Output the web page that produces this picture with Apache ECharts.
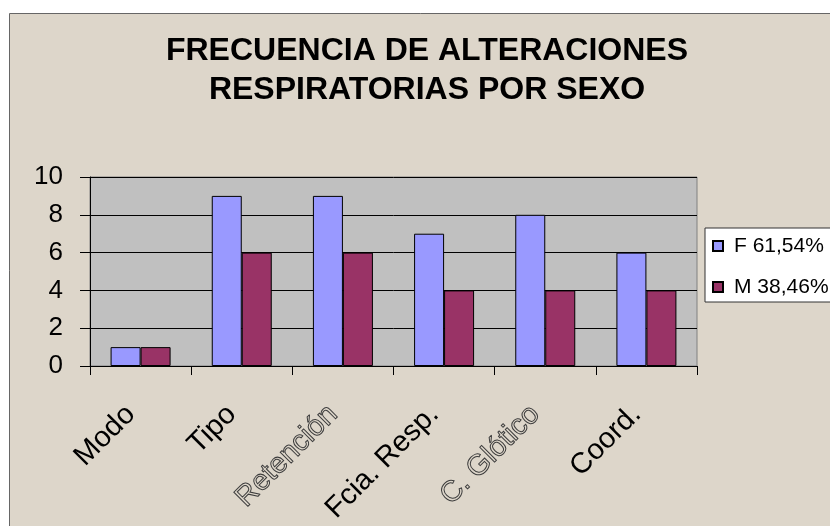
<!DOCTYPE html>
<html>
<head>
<meta charset="utf-8">
<script src="https://cdn.jsdelivr.net/npm/echarts@6/dist/echarts.min.js"></script>
<style>
  html, body { margin: 0; padding: 0; background: #fff; }
  #chart { width: 830px; height: 526px; }
</style>
</head>
<body>
<div id="chart"></div>
<script>
// datos
const categories = ['Modo', 'Tipo', 'Retención', 'Fcia. Resp.', 'C. Glótico', 'Coord.']
const femenino = [1, 9, 9, 7, 8, 6]
const masculino = [1, 6, 6, 4, 4, 4]
const seriesNames = ['F 61,54%', 'M 38,46%']
const titleLines = ['FRECUENCIA DE ALTERACIONES', 'RESPIRATORIAS POR SEXO']
const yTicks = { min: 0, max: 10, interval: 2 }

const font = 'Arial, "Liberation Sans", sans-serif'
const chart = echarts.init(document.getElementById('chart'))

// etiquetas que en el original salen "huecas"
const hollow = [2, 4]

const options = {
  backgroundColor: '#ffffff',
  animation: false,
  graphic: [
    {
      type: 'rect',
      z: -10,
      shape: { x: 9.5, y: 13.5, width: 840, height: 530 },
      style: { fill: '#ddd6ca', stroke: '#666666', lineWidth: 1 }
    }
  ],
  title: {
    text: titleLines.join('\n'),
    left: 427,
    top: 32,
    padding: 0,
    textAlign: 'center',
    textStyle: {
      fontFamily: font,
      fontWeight: 'bold',
      fontSize: 32,
      lineHeight: 39,
      color: '#000'
    }
  },
  legend: {
    orient: 'vertical',
    left: 705,
    top: 228,
    padding: [6, 20, 3, 7],
    itemGap: 17,
    itemWidth: 10,
    itemHeight: 10,
    icon: 'rect',
    backgroundColor: '#ffffff',
    borderColor: '#333333',
    borderWidth: 1,
    borderRadius: 0,
    data: seriesNames,
    textStyle: {
      fontFamily: font,
      fontSize: 21,
      lineHeight: 24,
      color: '#000',
      padding: [0, 0, 0, 6]
    }
  },
  grid: {
    left: 90,
    right: 133,
    top: 177,
    bottom: 159,
    show: true,
    backgroundColor: '#c0c0c0',
    borderColor: '#808080',
    borderWidth: 1
  },
  xAxis: {
    type: 'category',
    data: categories,
    axisLine: { lineStyle: { color: '#000', width: 1 } },
    axisTick: { show: true, length: 9, inside: false, lineStyle: { color: '#000' } },
    axisLabel: {
      rotate: 45,
      margin: 34,
      interval: 0,
      padding: [0, 14, 0, 0],
      fontFamily: font,
      fontSize: 29,
      color: '#000',
      formatter: (value, idx) => hollow.includes(idx) ? '{h|' + value + '}' : value,
      rich: {
        h: {
          fontFamily: font,
          fontSize: 29,
          color: 'rgba(0,0,0,0)',
          textBorderColor: '#3c3c3c',
          textBorderWidth: 1
        }
      }
    }
  },
  yAxis: {
    type: 'value',
    min: yTicks.min,
    max: yTicks.max,
    interval: yTicks.interval,
    axisLine: { show: true, lineStyle: { color: '#000', width: 1 } },
    axisTick: { show: true, length: 10, lineStyle: { color: '#000' } },
    splitLine: { show: true, lineStyle: { color: '#000', width: 1 } },
    axisLabel: {
      margin: 27,
      fontFamily: font,
      fontSize: 26,
      color: '#000'
    }
  },
  series: [
    {
      name: seriesNames[0],
      type: 'bar',
      data: femenino,
      barWidth: 30,
      barGap: '0%',
      itemStyle: { color: '#9999ff', borderColor: '#000', borderWidth: 1 }
    },
    {
      name: seriesNames[1],
      type: 'bar',
      data: masculino,
      barWidth: 30,
      barGap: '0%',
      itemStyle: { color: '#993366', borderColor: '#000', borderWidth: 1 }
    }
  ]
}

chart.setOption(options)
</script>
</body>
</html>
